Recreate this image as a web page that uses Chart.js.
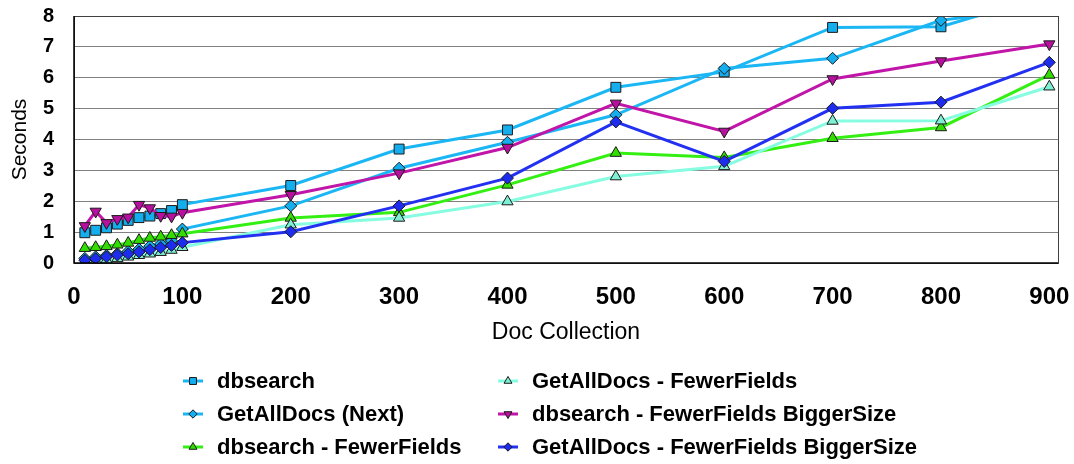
<!DOCTYPE html>
<html>
<head>
<meta charset="utf-8">
<script src="https://cdn.jsdelivr.net/npm/chart.js@4/dist/chart.umd.min.js"></script>
<style>
  html, body { margin: 0; padding: 0; background: #fff; }
  #wrap { width: 1074px; height: 464px; }
</style>
</head>
<body>
<div id="wrap"><canvas id="myChart" width="1074" height="464"></canvas></div>
<script>
// doc collection sizes
const docCounts = [10, 20, 30, 40, 50, 60, 70, 80, 90, 100, 200, 300, 400, 500, 600, 700, 800, 900];
const xTickValues = [0, 100, 200, 300, 400, 500, 600, 700, 800, 900];

// seconds per series
const dbsearch = [0.98, 1.06, 1.14, 1.26, 1.38, 1.47, 1.52, 1.60, 1.70, 1.89, 2.51, 3.69, 4.31, 5.69, 6.19, 7.63, 7.65, 8.7];
const getAllDocsNext = [0.15, 0.20, 0.25, 0.30, 0.38, 0.45, 0.55, 0.62, 0.72, 1.10, 1.85, 3.07, 3.91, 4.80, 6.30, 6.63, 7.86, 8.3];
const dbsearchFewer = [0.48, 0.51, 0.54, 0.59, 0.65, 0.74, 0.81, 0.85, 0.90, 0.95, 1.46, 1.64, 2.53, 3.56, 3.42, 4.04, 4.39, 6.09];
const getAllDocsFewer = [0.05, 0.08, 0.10, 0.15, 0.20, 0.25, 0.30, 0.35, 0.42, 0.51, 1.24, 1.46, 1.99, 2.80, 3.13, 4.60, 4.61, 5.71];
const dbsearchBigger = [1.20, 1.67, 1.30, 1.43, 1.48, 1.89, 1.78, 1.53, 1.51, 1.63, 2.21, 2.91, 3.74, 5.17, 4.26, 5.96, 6.54, 7.09];
const getAllDocsBigger = [0.09, 0.14, 0.20, 0.26, 0.30, 0.36, 0.43, 0.50, 0.57, 0.66, 1.01, 1.85, 2.75, 4.57, 3.29, 5.01, 5.21, 6.50];

const seriesNames = [
  'dbsearch',
  'GetAllDocs (Next)',
  'dbsearch - FewerFields',
  'GetAllDocs - FewerFields',
  'dbsearch - FewerFields BiggerSize',
  'GetAllDocs - FewerFields BiggerSize'
];
const seriesValues = [dbsearch, getAllDocsNext, dbsearchFewer, getAllDocsFewer, dbsearchBigger, getAllDocsBigger];

const FONT = "'Liberation Sans', Arial, sans-serif";

// line colour, marker fill, marker shape, rotation, radius
const looks = [
  { line: '#1BB6F4', fill: '#14AEEE', style: 'rect', rot: 0, r: 7 },
  { line: '#1BB6F4', fill: '#14AEEE', style: 'rectRot', rot: 0, r: 6 },
  { line: '#33F012', fill: '#33DD00', style: 'triangle', rot: 0, r: 6.5 },
  { line: '#86FCE0', fill: '#7EEFD2', style: 'triangle', rot: 0, r: 6.5 },
  { line: '#C015A8', fill: '#B8109E', style: 'triangle', rot: 180, r: 6.5 },
  { line: '#2230F2', fill: '#1E2CEE', style: 'rectRot', rot: 0, r: 6 }
];

const datasets = seriesValues.map((vals, i) => ({
  label: seriesNames[i],
  data: docCounts.map((x, j) => ({ x: x, y: vals[j] })),
  borderColor: looks[i].line,
  borderWidth: 3,
  pointStyle: looks[i].style,
  pointRotation: looks[i].rot,
  pointRadius: looks[i].r,
  pointBackgroundColor: looks[i].fill,
  pointBorderColor: '#1a1a1a',
  pointBorderWidth: 1,
  tension: 0,
  order: 6 - i // later series drawn on top, like the original
}));

// box around the plot area
const frame = {
  id: 'frame',
  afterDatasetsDraw(chart) {
    const { ctx, chartArea: a } = chart;
    ctx.save();
    ctx.strokeStyle = '#404040';
    ctx.lineWidth = 1;
    ctx.strokeRect(a.left + 0.5, a.top + 0.5, a.right - a.left, a.bottom - a.top);
    ctx.strokeStyle = '#000';
    ctx.lineWidth = 1.5;
    ctx.beginPath();
    ctx.moveTo(a.left, a.top);
    ctx.lineTo(a.left, a.bottom);
    ctx.lineTo(a.right, a.bottom);
    ctx.stroke();
    ctx.restore();
  }
};

// two column legend under the chart
const gridLegend = {
  id: 'gridLegend',
  afterDraw(chart) {
    const ctx = chart.ctx;
    const colX = [193, 508];
    const rowY = [381, 414, 447];
    ctx.save();
    ctx.font = 'bold 22px ' + FONT;
    ctx.textBaseline = 'middle';
    ctx.fillStyle = '#000';
    chart.data.datasets.forEach((ds, i) => {
      const cx = colX[Math.floor(i / 3)];
      const cy = rowY[i % 3];
      ctx.strokeStyle = ds.borderColor;
      ctx.lineWidth = 3;
      ctx.beginPath();
      ctx.moveTo(cx - 10, cy);
      ctx.lineTo(cx + 10, cy);
      ctx.stroke();
      ctx.fillStyle = ds.pointBackgroundColor;
      ctx.strokeStyle = '#1a1a1a';
      ctx.lineWidth = 1;
      Chart.helpers.drawPoint(ctx, {
        pointStyle: ds.pointStyle,
        rotation: ds.pointRotation,
        radius: ds.pointRadius * 0.7,
        borderWidth: 1
      }, cx, cy);
      ctx.fillStyle = '#000';
      ctx.fillText(ds.label, cx + 24, cy + 1);
    });
    ctx.restore();
  }
};

new Chart(document.getElementById('myChart'), {
  type: 'line',
  data: { datasets: datasets },
  plugins: [frame, gridLegend],
  options: {
    responsive: false,
    animation: false,
    layout: { padding: { top: 16, right: 16, bottom: 116, left: 0 } },
    plugins: {
      legend: { display: false },
      tooltip: { enabled: false }
    },
    scales: {
      x: {
        type: 'linear',
        min: 0,
        max: 908,
        afterBuildTicks(scale) {
          scale.ticks = xTickValues.map(v => ({ value: v }));
        },
        afterFit(scale) {
          scale.height = 85;
          scale.paddingLeft = 0;
          scale.paddingRight = 0;
        },
        grid: { display: false, drawTicks: false },
        border: { display: false },
        ticks: {
          padding: 20,
          maxRotation: 0,
          autoSkip: false,
          color: '#000',
          font: { family: FONT, size: 24, weight: 'bold' }
        },
        title: {
          display: true,
          text: 'Doc Collection',
          color: '#000',
          padding: { top: 4, bottom: 2 },
          font: { family: FONT, size: 23 }
        }
      },
      y: {
        min: 0,
        max: 8,
        afterFit(scale) {
          scale.width = 74;
          scale.paddingTop = 0;
          scale.paddingBottom = 0;
        },
        grid: { color: '#808080', lineWidth: 1, drawTicks: false },
        border: { display: false },
        ticks: {
          stepSize: 1,
          padding: 20,
          color: '#000',
          font: { family: FONT, size: 20, weight: 'bold' }
        },
        title: {
          display: true,
          text: 'Seconds',
          color: '#000',
          padding: { top: 8, bottom: 0 },
          font: { family: FONT, size: 21 }
        }
      }
    }
  }
});
</script>
</body>
</html>
